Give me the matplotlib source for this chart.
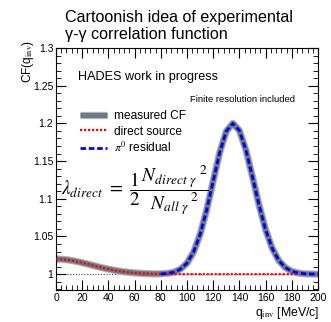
import matplotlib
matplotlib.use("Agg")
import matplotlib.pyplot as plt
import matplotlib.patheffects as pe
from matplotlib.ticker import MultipleLocator, FuncFormatter

# ---- data ----
q_all = [0, 5, 10, 15, 20, 25, 30, 35, 40, 45, 50, 55, 60, 65, 70, 75, 80, 85, 90, 95,
         100, 105, 110, 115, 120, 125, 130, 135, 140, 145, 150, 155, 160, 165, 170, 175,
         180, 185, 190, 195, 200]
measured_cf = [1.0200, 1.0197, 1.0187, 1.0171, 1.0152, 1.0130, 1.0108, 1.0086, 1.0067, 1.0050,
               1.0036, 1.0025, 1.0017, 1.0011, 1.0007, 1.0004, 1.0005, 1.0011, 1.0026, 1.0066,
               1.0146, 1.0293, 1.0526, 1.0851, 1.1237, 1.1615, 1.1896, 1.2000, 1.1905, 1.1645,
               1.1289, 1.0916, 1.0590, 1.0345, 1.0183, 1.0088, 1.0038, 1.0015, 1.0005, 1.0002,
               1.0000]
q_direct = [0, 5, 10, 15, 20, 25, 30, 35, 40, 45, 50, 55, 60, 65, 70, 75, 80, 85, 90, 100,
            120, 140, 160, 185]
direct_source = [1.0200, 1.0197, 1.0187, 1.0171, 1.0152, 1.0130, 1.0108, 1.0086, 1.0067, 1.0050,
                 1.0036, 1.0025, 1.0017, 1.0011, 1.0007, 1.0004, 1.0002, 1.0001, 1.0000, 1.0000,
                 1.0000, 1.0000, 1.0000, 1.0000]
q_pi0 = [80, 85, 90, 95, 100, 105, 110, 115, 120, 125, 130, 135, 140, 145, 150, 155, 160,
         165, 170, 175, 180, 185, 190, 195, 200]
pi0_residual = [1.0003, 1.0010, 1.0026, 1.0066, 1.0146, 1.0293, 1.0526, 1.0851, 1.1237, 1.1615,
                1.1896, 1.2000, 1.1905, 1.1645, 1.1289, 1.0916, 1.0590, 1.0345, 1.0183, 1.0088,
                1.0038, 1.0015, 1.0005, 1.0002, 1.0000]

title_lines = ["Cartoonish idea of experimental", "γ-γ correlation function"]
labels = ["measured CF", "direct source", r"$\pi^{0}$ residual"]

W, H = 331, 322
plt.rcParams['font.family'] = ['Liberation Sans', 'DejaVu Sans']
plt.rcParams['mathtext.fontset'] = 'stix'
fig = plt.figure(figsize=(W / 100, H / 100), dpi=100)

def fx(px):
    return px / W

def fy(py):
    return 1 - py / H

ax = fig.add_axes([fx(56), fy(290), fx(318) - fx(56), fy(48) - fy(290)])

ax.axhline(1.0, color='#444444', lw=0.8, ls=(0, (1, 1.5)), zorder=1)
ax.plot(q_all, measured_cf, color='#6e7a84', lw=3.6, solid_capstyle='butt', zorder=2,
        label=labels[0],
        path_effects=[pe.Stroke(linewidth=5.2, foreground='#aeb5bb'), pe.Normal()])
ax.plot(q_direct, direct_source, color='red', lw=1.6, ls=(0, (1, 0.8)), zorder=3,
        label=labels[1])
ax.plot(q_pi0, pi0_residual, color='blue', lw=2.0, ls=(0, (2, 1)), zorder=4,
        label=labels[2])

ax.set_xlim(0, 200)
ax.set_ylim(0.979, 1.3)
ax.xaxis.set_major_locator(MultipleLocator(20))
ax.xaxis.set_minor_locator(MultipleLocator(4))
ax.yaxis.set_major_locator(MultipleLocator(0.05))
ax.yaxis.set_minor_locator(MultipleLocator(0.01))
ax.yaxis.set_major_formatter(FuncFormatter(lambda v, p: f"{v:g}"))
ax.tick_params(which='both', direction='in', top=True, right=True, labelsize=7.5)
ax.tick_params(axis='x', pad=2.5)
ax.tick_params(axis='y', pad=2)
ax.tick_params(which='major', length=7, width=0.8)
ax.tick_params(which='minor', length=3.5, width=0.6)
for s in ax.spines.values():
    s.set_linewidth(0.8)

leg = ax.legend(loc='upper left', bbox_to_anchor=(fx(80), fy(110)), bbox_transform=fig.transFigure,
                frameon=False, fontsize=8.6, handlelength=2.3, handletextpad=0.55,
                labelspacing=0.3, borderaxespad=0, borderpad=0)

fig.text(fx(65), fy(22), title_lines[0], fontsize=11.6, ha='left', va='baseline')
fig.text(fx(65), fy(39), title_lines[1], fontsize=11.6, ha='left', va='baseline')
fig.text(fx(78), fy(80), "HADES work in progress", fontsize=9.1, ha='left', va='baseline')
fig.text(fx(295), fy(102), "Finite resolution included", fontsize=6.8, ha='right', va='baseline')
fig.text(fx(61), fy(190),
         r"$\lambda_{direct}\ =\ \dfrac{1}{2}\dfrac{{N_{direct\ \gamma}}^{\ 2}}{{N_{all\ \gamma}}^{\ 2}}$",
         fontsize=13.8, ha='left', va='center')
fig.text(fx(28), fy(40), r"CF(q$_{\rm inv}$)", fontsize=8.6, rotation=90, ha='center', va='top')
fig.text(fx(319), fy(316), r"q$_{\rm inv}$ [MeV/c]", fontsize=8.8, ha='right', va='baseline')

fig.savefig("out.png", dpi=100)
